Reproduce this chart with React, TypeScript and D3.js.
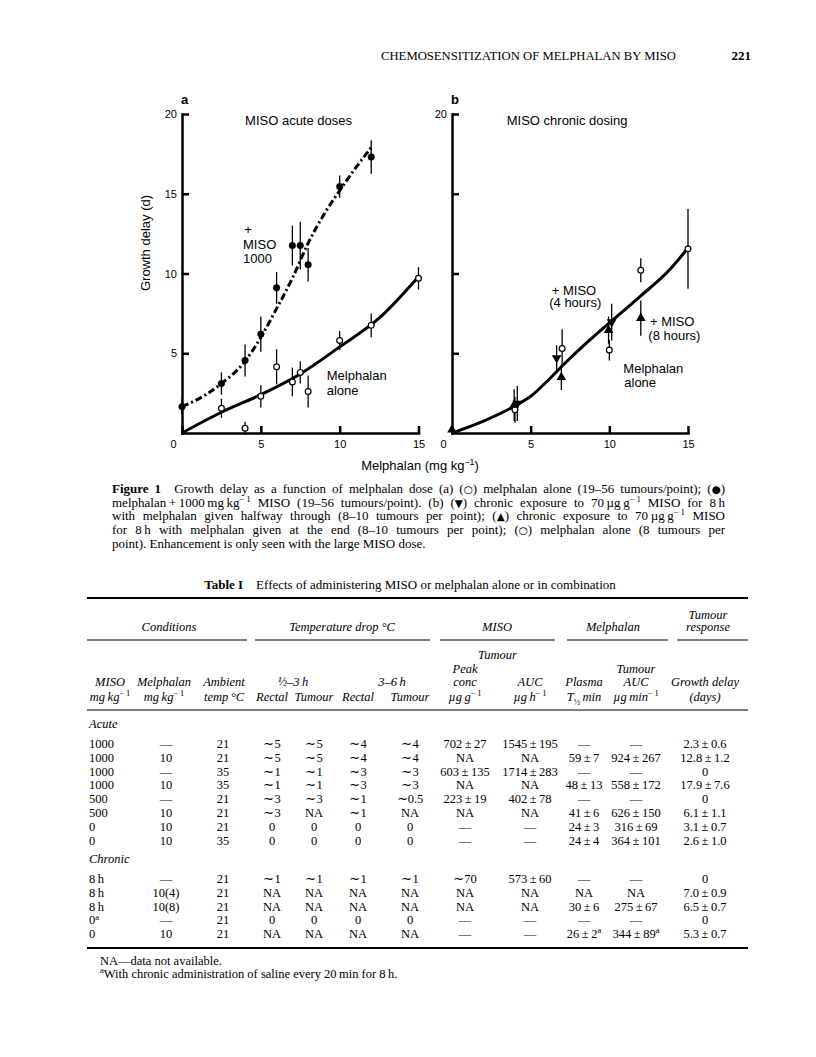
import React, { useEffect, useRef } from 'react'
import * as d3 from 'd3'

const SANS = '"Liberation Sans", Arial, Helvetica, sans-serif'
const SERIF = '"Liberation Serif", "Times New Roman", Times, serif'
const SYM = '"DejaVu Sans", sans-serif'

// ---- Figure 1a: acute MISO ----
const aloneA_dose = [2.5, 4, 5, 6, 7, 7.5, 8, 10, 12, 15]
const aloneA_delay = [1.55, 0.3, 2.3, 4.15, 3.2, 3.8, 2.6, 5.8, 6.75, 9.7]
const aloneA_err = [0.6, 0.4, 0.7, 1.1, 0.9, 0.7, 1.0, 0.6, 0.75, 0.7]

const misoA_dose = [0, 2.5, 4, 5, 6, 7, 7.5, 8, 10, 12]
const misoA_delay = [1.65, 3.1, 4.55, 6.2, 9.1, 11.75, 11.75, 10.55, 15.45, 17.3]
const misoA_err = [0.5, 0.7, 1.0, 1.1, 1.0, 1.25, 1.5, 1.05, 0.7, 1.05]

const fitAloneA_dose = [0, 2.5, 5, 7.5, 10, 12.5, 15]
const fitAloneA_delay = [0, 1.3, 2.4, 3.7, 5.4, 7.2, 9.8]
const fitMisoA_dose = [0, 1.5, 2.5, 4, 5, 6, 7, 8, 9, 10, 11, 12]
const fitMisoA_delay = [1.65, 2.4, 3.1, 4.5, 6.0, 7.8, 9.7, 11.9, 13.7, 15.2, 16.6, 17.9]

// ---- Figure 1b: chronic MISO ----
const aloneB_dose = [4, 7, 10, 12, 15]
const aloneB_delay = [1.45, 5.3, 5.2, 10.2, 11.55]
const aloneB_err = [0.8, 1.2, 0.65, 0.75, 2.5]

const halfB_dose = [4.15, 6.65, 10.15] // down triangles, "4 hours"
const halfB_delay = [1.85, 4.7, 6.95]
const halfB_err = [1.1, 0.8, 1.15]

const endB_dose = [0, 3.95, 6.95, 9.95, 12] // up triangles, "8 hours"
const endB_delay = [0.2, 1.75, 3.5, 6.45, 7.2]
const endB_err = [0, 1.0, 0.8, 0.85, 1.1]

const fitB_dose = [0, 2, 4, 5, 6, 7, 8.5, 10, 12, 13.8, 15]
const fitB_delay = [0, 0.75, 1.7, 2.3, 3.2, 4.2, 5.6, 6.9, 8.6, 10.2, 11.6]

const xTicks = [0, 5, 10, 15]
const xTickLabels = ['0', '5', '10', '15']
const yTicks = [5, 10, 15, 20]
const yTickLabelsA = ['5', '10', '15', '20']
const yTickLabelsB = ['', '', '', '20']

// label positions given in data units
const notesA = [
  { t: 'MISO acute doses', x: 4.0, y: 19.3 },
  { t: '+', x: 3.95, y: 12.45 },
  { t: 'MISO', x: 3.87, y: 11.55 },
  { t: '1000', x: 3.87, y: 10.65 },
  { t: 'Melphalan', x: 9.18, y: 3.32 },
  { t: 'alone', x: 9.18, y: 2.38 },
]
const notesB = [
  { t: 'MISO chronic dosing', x: 3.48, y: 19.3 },
  { t: '+ MISO', x: 6.34, y: 8.65 },
  { t: '(4 hours)', x: 6.18, y: 7.9 },
  { t: '+ MISO', x: 12.58, y: 6.71 },
  { t: '(8 hours)', x: 12.48, y: 5.83 },
  { t: 'Melphalan', x: 10.89, y: 3.76 },
  { t: 'alone', x: 10.95, y: 2.88 },
]

type Part = string | { t: string; sup?: boolean; sub?: boolean; b?: boolean; i?: boolean; sym?: boolean }

const captionLines: Part[][] = [
  [{ t: 'Figure 1', b: true }, '\u2002\u2002Growth delay as a function of melphalan dose (a) (', { t: '\u25CB', sym: true }, ') melphalan alone (19\u201356 tumours/point); (', { t: '\u25CF', sym: true }, ')'],
  ['melphalan\u2009+\u20091000\u2009mg\u2009kg', { t: '\u2212\u20091', sup: true }, ' MISO (19\u201356 tumours/point). (b) (', { t: '\u25BC', sym: true }, ') chronic exposure to 70\u2009\u00B5g\u2009g', { t: '\u2212\u20091', sup: true }, ' MISO for 8\u2009h'],
  ['with melphalan given halfway through (8\u201310 tumours per point); (', { t: '\u25B2', sym: true }, ') chronic exposure to 70\u2009\u00B5g\u2009g', { t: '\u2212\u20091', sup: true }, ' MISO'],
  ['for 8\u2009h with melphalan given at the end (8\u201310 tumours per point); (', { t: '\u25CB', sym: true }, ') melphalan alone (8 tumours per'],
  ['point). Enhancement is only seen with the large MISO dose.'],
]

// ---- Table I ----
const acuteRows = [
  ['1000', '\u2014', '21', '\u223C5', '\u223C5', '\u223C4', '\u223C4', '702\u2009\u00B1\u200927', '1545\u2009\u00B1\u2009195', '\u2014', '\u2014', '2.3\u2009\u00B1\u20090.6'],
  ['1000', '10', '21', '\u223C5', '\u223C5', '\u223C4', '\u223C4', 'NA', 'NA', '59\u2009\u00B1\u20097', '924\u2009\u00B1\u2009267', '12.8\u2009\u00B1\u20091.2'],
  ['1000', '\u2014', '35', '\u223C1', '\u223C1', '\u223C3', '\u223C3', '603\u2009\u00B1\u2009135', '1714\u2009\u00B1\u2009283', '\u2014', '\u2014', '0'],
  ['1000', '10', '35', '\u223C1', '\u223C1', '\u223C3', '\u223C3', 'NA', 'NA', '48\u2009\u00B1\u200913', '558\u2009\u00B1\u2009172', '17.9\u2009\u00B1\u20097.6'],
  ['500', '\u2014', '21', '\u223C3', '\u223C3', '\u223C1', '\u223C0.5', '223\u2009\u00B1\u200919', '402\u2009\u00B1\u200978', '\u2014', '\u2014', '0'],
  ['500', '10', '21', '\u223C3', 'NA', '\u223C1', 'NA', 'NA', 'NA', '41\u2009\u00B1\u20096', '626\u2009\u00B1\u2009150', '6.1\u2009\u00B1\u20091.1'],
  ['0', '10', '21', '0', '0', '0', '0', '\u2014', '\u2014', '24\u2009\u00B1\u20093', '316\u2009\u00B1\u200969', '3.1\u2009\u00B1\u20090.7'],
  ['0', '10', '35', '0', '0', '0', '0', '\u2014', '\u2014', '24\u2009\u00B1\u20094', '364\u2009\u00B1\u2009101', '2.6\u2009\u00B1\u20091.0'],
]
const chronicRows = [
  ['8\u2009h', '\u2014', '21', '\u223C1', '\u223C1', '\u223C1', '\u223C1', '\u223C70', '573\u2009\u00B1\u200960', '\u2014', '\u2014', '0'],
  ['8\u2009h', '10(4)', '21', 'NA', 'NA', 'NA', 'NA', 'NA', 'NA', 'NA', 'NA', '7.0\u2009\u00B1\u20090.9'],
  ['8\u2009h', '10(8)', '21', 'NA', 'NA', 'NA', 'NA', 'NA', 'NA', '30\u2009\u00B1\u20096', '275\u2009\u00B1\u200967', '6.5\u2009\u00B1\u20090.7'],
  ['0^a', '\u2014', '21', '0', '0', '0', '0', '\u2014', '\u2014', '\u2014', '\u2014', '0'],
  ['0', '10', '21', 'NA', 'NA', 'NA', 'NA', '\u2014', '\u2014', '26\u2009\u00B1\u20092^a', '344\u2009\u00B1\u200989^a', '5.3\u2009\u00B1\u20090.7'],
]
const colX = [89, 166, 223, 272, 314, 358, 410, 465, 530, 584, 636, 705]
const headX = [110, 164, 224]
const headRow1: Part[][] = [
  [{ t: 'MISO', i: true }], [{ t: 'Melphalan', i: true }], [{ t: 'Ambient', i: true }], [], [], [], [],
  [{ t: 'conc', i: true }], [{ t: 'AUC', i: true }], [{ t: 'Plasma', i: true }], [{ t: 'AUC', i: true }], [{ t: 'Growth delay', i: true }],
]
const headRow2: Part[][] = [
  [{ t: 'mg\u2009kg', i: true }, { t: '\u2212\u20091', sup: true }],
  [{ t: 'mg\u2009kg', i: true }, { t: '\u2212\u20091', sup: true }],
  [{ t: 'temp\u2009\u00B0C', i: true }],
  [{ t: 'Rectal', i: true }], [{ t: 'Tumour', i: true }], [{ t: 'Rectal', i: true }], [{ t: 'Tumour', i: true }],
  [{ t: '\u00B5g\u2009g', i: true }, { t: '\u2212\u20091', sup: true }],
  [{ t: '\u00B5g\u2009h', i: true }, { t: '\u2212\u20091', sup: true }],
  [{ t: 'T', i: true }, { t: '\u00BD', sub: true }, { t: '\u2009min', i: true }],
  [{ t: '\u00B5g\u2009min', i: true }, { t: '\u2212\u20091', sup: true }],
  [{ t: '(days)', i: true }],
]
const groups = [
  { t: 'Conditions', x0: 87, x1: 247, c: 169 },
  { t: 'Temperature drop \u00B0C', x0: 255, x1: 430, c: 342 },
  { t: 'MISO', x0: 440, x1: 555, c: 497 },
  { t: 'Melphalan', x0: 567, x1: 668, c: 613 },
  { t: 'response', x0: 677, x1: 748, c: 708 },
]

function rich(text: any, parts: Part[], size: number) {
  let shift = 0
  parts.forEach((p) => {
    const o = typeof p === 'string' ? { t: p } : p
    const target = o.sup ? -size * 0.38 : o.sub ? size * 0.28 : 0
    const ts = text.append('tspan').text(o.t)
    if (target !== shift) {
      ts.attr('dy', target - shift)
      shift = target
    }
    if (o.sup || o.sub) ts.attr('font-size', size * 0.68)
    if (o.b) ts.attr('font-weight', 'bold')
    if (o.i) ts.attr('font-style', 'italic')
    if (o.sym) ts.attr('font-family', SYM).attr('font-size', size * 0.8)
  })
}

function cellParts(s: string): Part[] {
  const [main, sup] = s.split('^')
  return sup ? [main, { t: sup, sup: true }] : [main]
}

export default function App() {
  const ref = useRef<SVGSVGElement>(null)

  useEffect(() => {
    document.body.style.margin = '0'
    const svg = d3.select(ref.current)
    svg.selectAll('*').remove()

    // running head
    svg.append('text').attr('x', 381).attr('y', 60).attr('font-family', SERIF).attr('font-size', 12.7)
      .text('CHEMOSENSITIZATION OF MELPHALAN BY MISO')
    svg.append('text').attr('x', 751).attr('y', 60).attr('text-anchor', 'end').attr('font-family', SERIF)
      .attr('font-size', 13).attr('font-weight', 'bold').text('221')

    // ---- charts ----
    const y = d3.scaleLinear().domain([0, 20]).range([433, 114])
    const xa = d3.scaleLinear().domain([0, 15]).range([182, 418.5])
    const xb = d3.scaleLinear().domain([0, 15]).range([452, 688])

    const axes = (x: d3.ScaleLinear<number, number>, yLabels: string[], letter: string) => {
      const gx = svg.append('g').attr('transform', `translate(0,${y(0)})`)
        .call(d3.axisBottom(x).tickValues(xTicks).tickFormat((_, i) => xTickLabels[i])
          .tickSizeInner(-7).tickSizeOuter(0).tickPadding(7))
      const gy = svg.append('g').attr('transform', `translate(${x(0)},0)`)
        .call(d3.axisLeft(y).tickValues(yTicks).tickFormat((_, i) => yLabels[i])
          .tickSizeInner(-7).tickSizeOuter(0).tickPadding(5))
      ;[gx, gy].forEach((g) => {
        g.select('.domain').attr('stroke-width', 2.5).attr('stroke-linecap', 'square')
        g.selectAll('.tick line').attr('stroke-width', 2.5)
        g.selectAll('.tick text').attr('font-family', SANS).attr('font-size', 11)
      })
      gx.selectAll('.tick').filter((d: any) => d === 0).select('text').attr('dx', -9)
      svg.append('text').attr('x', x(0) - 1).attr('y', 104).attr('font-family', SANS)
        .attr('font-size', 13).attr('font-weight', 'bold').text(letter)
    }
    axes(xa, yTickLabelsA, 'a')
    axes(xb, yTickLabelsB, 'b')

    const curve = (x: d3.ScaleLinear<number, number>, xs: number[], ys: number[], dash?: string) => {
      const line = d3.line<number>().x((d) => x(xs[d])).y((d) => y(ys[d])).curve(d3.curveMonotoneX)
      svg.append('path').attr('d', line(d3.range(xs.length))).attr('fill', 'none').attr('stroke', '#000')
        .attr('stroke-width', 3).attr('stroke-dasharray', dash ?? null)
    }
    curve(xa, fitAloneA_dose, fitAloneA_delay)
    curve(xa, fitMisoA_dose, fitMisoA_delay, '7,3,2,3')
    curve(xb, fitB_dose, fitB_delay)

    const errs = (x: d3.ScaleLinear<number, number>, xs: number[], ys: number[], es: number[]) => {
      svg.append('g').selectAll('line').data(d3.range(xs.length)).join('line')
        .attr('x1', (i) => x(xs[i])).attr('x2', (i) => x(xs[i]))
        .attr('y1', (i) => y(ys[i] - es[i])).attr('y2', (i) => y(ys[i] + es[i]))
        .attr('stroke', '#000').attr('stroke-width', 1.3)
    }
    const circles = (x: d3.ScaleLinear<number, number>, xs: number[], ys: number[], open: boolean) => {
      svg.append('g').selectAll('circle').data(d3.range(xs.length)).join('circle')
        .attr('cx', (i) => x(xs[i])).attr('cy', (i) => y(ys[i])).attr('r', open ? 2.9 : 3.3)
        .attr('fill', open ? '#fff' : '#000').attr('stroke', '#000').attr('stroke-width', open ? 1.2 : 0.5)
    }
    const triangles = (x: d3.ScaleLinear<number, number>, xs: number[], ys: number[], down: boolean) => {
      const sym = d3.symbol().type(d3.symbolTriangle).size(40)
      svg.append('g').selectAll('path').data(d3.range(xs.length)).join('path')
        .attr('d', sym() as string)
        .attr('transform', (i) => `translate(${x(xs[i])},${y(ys[i])})${down ? ' rotate(180)' : ''}`)
        .attr('fill', '#000')
    }

    errs(xa, aloneA_dose, aloneA_delay, aloneA_err)
    errs(xa, misoA_dose, misoA_delay, misoA_err)
    circles(xa, aloneA_dose, aloneA_delay, true)
    circles(xa, misoA_dose, misoA_delay, false)

    errs(xb, aloneB_dose, aloneB_delay, aloneB_err)
    errs(xb, halfB_dose, halfB_delay, halfB_err)
    errs(xb, endB_dose, endB_delay, endB_err)
    circles(xb, aloneB_dose, aloneB_delay, true)
    triangles(xb, halfB_dose, halfB_delay, true)
    triangles(xb, endB_dose, endB_delay, false)

    const notes = (x: d3.ScaleLinear<number, number>, list: { t: string; x: number; y: number }[]) => {
      svg.append('g').selectAll('text').data(list).join('text')
        .attr('x', (d) => x(d.x)).attr('y', (d) => y(d.y))
        .attr('font-family', SANS).attr('font-size', 13).text((d) => d.t)
    }
    notes(xa, notesA)
    notes(xb, notesB)

    svg.append('text').attr('transform', 'translate(150,243) rotate(-90)').attr('text-anchor', 'middle')
      .attr('font-family', SANS).attr('font-size', 13).text('Growth delay (d)')
    const xl = svg.append('text').attr('x', 420).attr('y', 470).attr('text-anchor', 'middle')
      .attr('font-family', SANS).attr('font-size', 13)
    rich(xl, ['Melphalan (mg kg', { t: '\u22121', sup: true }, ')'], 13)

    // ---- caption (justified) ----
    const capL = 112, capR = 725
    captionLines.forEach((parts, i) => {
      const t = svg.append('text').attr('x', capL).attr('y', 493 + i * 13.7)
        .attr('font-family', SERIF).attr('font-size', 13)
      rich(t, parts, 13)
      if (i < captionLines.length - 1) {
        const w = (t.node() as SVGTextElement).getComputedTextLength()
        const n = (t.text().match(/ /g) || []).length
        if (n) t.attr('word-spacing', (capR - capL - w) / n)
      }
    })

    // ---- table ----
    const tt = svg.append('text').attr('x', 410).attr('y', 589).attr('text-anchor', 'middle')
      .attr('font-family', SERIF).attr('font-size', 13)
    rich(tt, [{ t: 'Table I', b: true }, '\u2002\u2002Effects of administering MISO or melphalan alone or in combination'], 13)

    const FS = 12.5
    const tab = svg.append('g').attr('font-family', SERIF).attr('font-size', FS)
    const tLeft = 87, tRight = 748
    const rule = (yy: number, w: number) => tab.append('line').attr('x1', tLeft).attr('x2', tRight)
      .attr('y1', yy).attr('y2', yy).attr('stroke', '#000').attr('stroke-width', w)
    rule(598, 2)

    const put = (x: number, yy: number, parts: Part[], anchor = 'middle') => {
      const t = tab.append('text').attr('x', x).attr('y', yy).attr('text-anchor', anchor)
      rich(t, parts, FS)
    }
    put(708, 619, [{ t: 'Tumour', i: true }])
    groups.forEach((g) => {
      put(g.c, 631, [{ t: g.t, i: true }])
      tab.append('line').attr('x1', g.x0).attr('x2', g.x1).attr('y1', 640).attr('y2', 640)
        .attr('stroke', '#000').attr('stroke-width', 1.2)
    })
    put((colX[7] + colX[8]) / 2, 659, [{ t: 'Tumour', i: true }])
    put(colX[7], 673, [{ t: 'Peak', i: true }])
    put(colX[10], 673, [{ t: 'Tumour', i: true }])
    put((colX[3] + colX[4]) / 2, 686, [{ t: '\u00BD', i: true }, { t: '\u20133\u2009h', i: true }])
    put((colX[5] + colX[6]) / 2 + 8, 686, [{ t: '3\u20136\u2009h', i: true }])
    const hx = (i: number) => (i < headX.length ? headX[i] : colX[i])
    headRow1.forEach((p, i) => { if (p.length) put(hx(i), 686, p) })
    headRow2.forEach((p, i) => put(hx(i), 701, p))
    rule(710, 1)

    const rows = (list: string[][], y0: number) => {
      list.forEach((r, ri) => {
        r.forEach((c, ci) => {
          put(colX[ci], y0 + ri * 13.8, cellParts(c), ci === 0 ? 'start' : 'middle')
        })
      })
    }
    put(colX[0], 728, [{ t: 'Acute', i: true }], 'start')
    rows(acuteRows, 748)
    put(colX[0], 863, [{ t: 'Chronic', i: true }], 'start')
    rows(chronicRows, 883)
    rule(948, 2)

    put(100, 965, ['NA\u2014data not available.'], 'start')
    put(100, 978, [{ t: 'a', sup: true }, 'With chronic administration of saline every 20\u2009min for 8\u2009h.'], 'start')
  }, [])

  return <svg ref={ref} width={816} height={1057} style={{ display: 'block', background: '#fff' }} />
}
